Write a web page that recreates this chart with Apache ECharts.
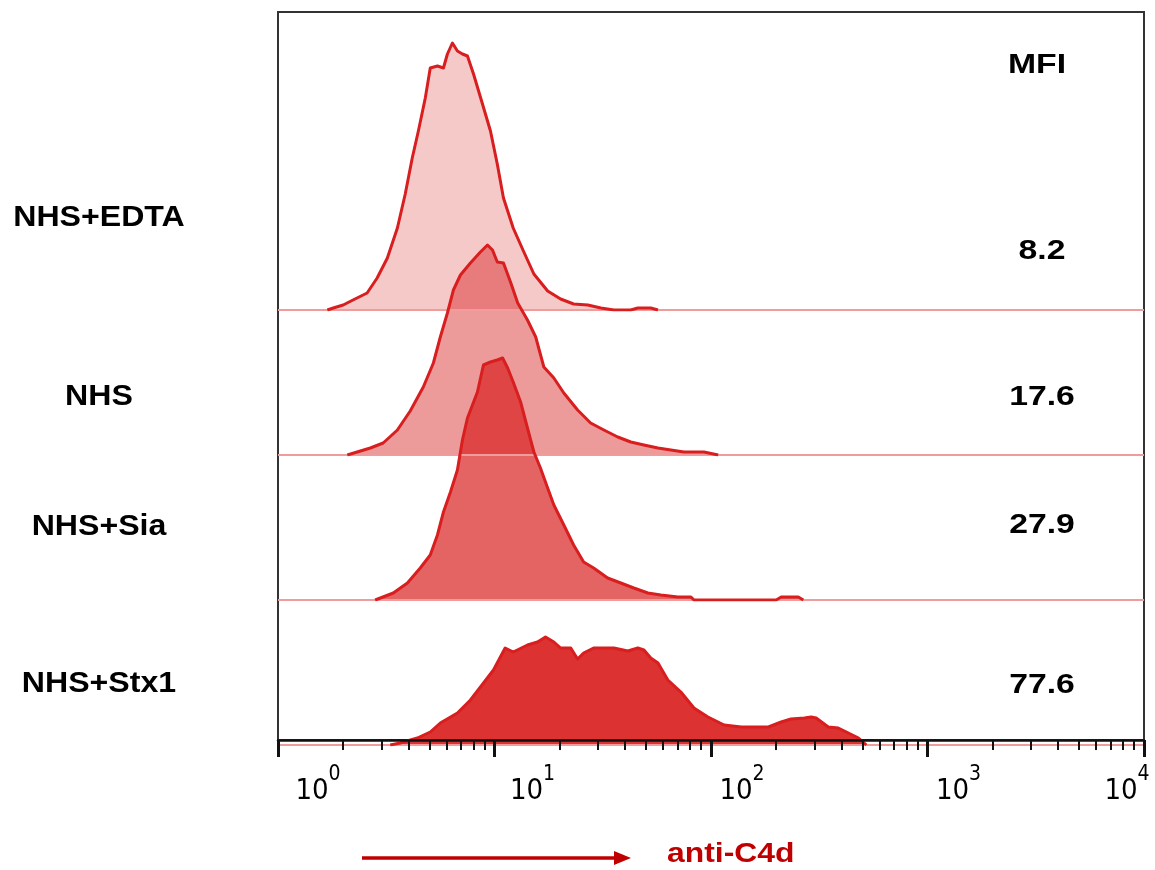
<!DOCTYPE html>
<html><head><meta charset="utf-8">
<script src="https://cdn.jsdelivr.net/npm/echarts@6/dist/echarts.min.js"></script>
<style>html,body{margin:0;padding:0;background:#fff}#c{width:1155px;height:870px}</style>
</head><body><div id="c"></div>
<script>
// ---------------- data ----------------
const groups = ['NHS+EDTA', 'NHS', 'NHS+Sia', 'NHS+Stx1'];
const mfiHeader = 'MFI';
const mfiValues = ['8.2', '17.6', '27.9', '77.6'];
const axisTitle = 'anti-C4d';
const majorTicks = [1, 10, 100, 1000, 10000];
const tickExponents = ['0', '1', '2', '3', '4'];
const minorTicks = [2,3,4,5,6,7,8,9, 20,30,40,50,60,70,80,90, 200,300,400,500,600,700,800,900, 2000,3000,4000,5000,6000,7000,8000,9000];

// histograms: [fluorescence intensity, event count]
const edta = [[1.69,0],[1.80,2],[2.0,5],[2.22,10],[2.58,17],[2.87,32],[3.20,52],[3.56,82],[3.87,116],[4.17,152],[4.45,179],[4.79,212],[5.05,242],[5.45,244],[5.81,242],[6.06,256],[6.39,267],[6.74,259],[7.11,256],[7.50,254],[8.0,236],[8.80,206],[9.58,179],[10.3,146],[11.0,112],[12.2,82],[13.6,59],[15.2,36],[17.6,19],[20.2,11],[23.2,6],[27.0,5],[31.0,2],[35.6,0],[42.6,0],[45.9,2],[52.7,2],[56.9,0]];
const nhs = [[2.09,0],[2.32,3],[2.67,7],[3.06,12],[3.56,25],[4.08,44],[4.69,68],[5.22,92],[5.62,118],[6.06,142],[6.46,165],[6.96,180],[7.74,192],[8.61,203],[9.28,210],[9.79,205],[10.3,193],[11.0,192],[11.9,172],[12.8,152],[14.2,135],[15.5,118],[16.9,88],[18.8,77],[20.9,62],[24.2,45],[27.8,32],[32.0,25],[37.1,18],[42.6,13],[49.0,10],[56.9,7],[65.3,5],[75.0,3],[92.8,3],[108,0]];
const sia = [[2.81,0],[2.97,2],[3.41,7],[3.96,17],[4.54,32],[5.05,45],[5.45,65],[5.81,88],[6.26,108],[6.74,130],[7.11,160],[7.50,182],[7.91,195],[8.34,208],[8.89,235],[9.58,238],[10.3,240],[10.9,242],[11.5,232],[12.2,218],[13.2,198],[14.2,172],[15.2,148],[16.3,132],[17.6,112],[18.8,95],[20.9,75],[23.2,55],[25.8,38],[28.7,32],[33.3,22],[38.3,17],[44.0,12],[51.1,7],[58.7,5],[70.3,3],[80.8,3],[83.4,0],[200,0],[211,3],[253,3],[267,0]];
const stx1 = [[3.30,0],[3.67,2],[4.40,7],[5.05,13],[5.62,22],[6.74,32],[7.74,45],[8.61,58],[9.89,75],[11.2,97],[12.2,93],[14.2,100],[15.8,103],[17.2,108],[18.8,103],[20.2,97],[22.5,97],[24.2,86],[25.8,92],[28.7,97],[32.0,97],[35.6,97],[41.3,94],[45.9,97],[49.0,95],[52.7,87],[56.9,82],[63.2,65],[72.6,53],[83.4,37],[96.8,28],[115,20],[138,18],[158,18],[184,18],[211,23],[234,26],[270,27],[290,28],[306,27],[348,18],[387,17],[431,12],[480,7],[522,0]];
const histograms = [edta, nhs, sia, stx1];

// ---------------- layout / style ----------------
const PL = 278, PW = 866, PT = 12, AXIS_Y = 740;
const baselines = [310, 455, 600, 745];
const fillAlpha = [0.24, 0.45, 0.69, 0.91];
const RED = '#d81e1e';
const labelY = [218, 397, 527, 684];
const mfiY = [252, 398, 526, 686];
const NARROW = "'Liberation Sans Narrow','Arial Narrow','DejaVu Sans Condensed',sans-serif";
const BOLD = "'Liberation Sans',Arial,sans-serif";

const grids = [], xAxes = [], yAxes = [], series = [];
baselines.forEach((b, i) => {
  grids.push({left: PL, width: PW, top: PT, height: b - PT, outerBoundsMode: 'none', containLabel: false});
  xAxes.push({type: 'log', logBase: 10, min: 1, max: 10000, gridIndex: i, show: false});
  yAxes.push({type: 'value', min: 0, max: b - PT, gridIndex: i, show: false});
  series.push({
    type: 'line', xAxisIndex: i, yAxisIndex: i, data: [[1, 0], [10000, 0]],
    symbol: 'none', silent: true, lineStyle: {color: '#f19c9c', width: 2}, z: 2
  });
  series.push({
    type: 'line', name: groups[i], xAxisIndex: i, yAxisIndex: i, data: histograms[i],
    symbol: 'none', showSymbol: false, smooth: false, silent: true,
    lineStyle: {color: RED, width: 3, join: 'round'},
    areaStyle: {color: RED, opacity: fillAlpha[i]}, z: 2
  });
});
// frame grid with the visible axis
grids.push({left: PL, width: PW, top: PT, height: AXIS_Y - PT, show: true, borderColor: '#333', borderWidth: 2,
  backgroundColor: 'transparent', outerBoundsMode: 'none', containLabel: false});
const shiftTok = ['{p0| }', '{p1| }', '{p2| }', '{p3| }', ''];
xAxes.push({
  type: 'log', logBase: 10, min: 1, max: 10000, gridIndex: 4, position: 'bottom', z: 10,
  axisLine: {show: true, onZero: false, lineStyle: {color: '#111', width: 2.5}},
  axisTick: {show: true, customValues: majorTicks, length: 17, lineStyle: {color: '#111', width: 3}},
  splitLine: {show: false}, minorTick: {show: false},
  axisLabel: {
    show: true, customValues: majorTicks, margin: 24, hideOverlap: false,
    formatter: function (v) {
      const i = Math.round(Math.log10(v));
      return shiftTok[i] + '{b|10}{s|' + tickExponents[i] + '}' + (i === 4 ? '{q| }' : '');
    },
    rich: {
      p0: {width: 80}, p1: {width: 76}, p2: {width: 62}, p3: {width: 62}, q: {width: 34},
      b: {fontSize: 29, fontFamily: NARROW, color: '#000'},
      s: {fontSize: 21, fontFamily: NARROW, color: '#000', padding: [0, 0, 34, 0]}
    }
  }
});
xAxes.push({
  type: 'log', logBase: 10, min: 1, max: 10000, gridIndex: 4, position: 'bottom', z: 10,
  axisLine: {show: false},
  axisTick: {show: true, customValues: minorTicks, length: 10, lineStyle: {color: '#111', width: 2}},
  axisLabel: {show: false}, splitLine: {show: false}
});
yAxes.push({type: 'value', min: 0, max: 1, gridIndex: 4, show: false});

const graphic = [];
groups.forEach((g, i) => graphic.push({
  type: 'text', x: 99, y: labelY[i], z: 20, scaleX: 1.07,
  style: {text: g, fill: '#000', font: 'bold 30px ' + BOLD, align: 'center', verticalAlign: 'middle'}
}));
graphic.push({type: 'text', x: 1037, y: 66, z: 20, scaleX: 1.25,
  style: {text: mfiHeader, fill: '#000', font: 'bold 27px ' + BOLD, align: 'center', verticalAlign: 'middle'}});
mfiValues.forEach((m, i) => graphic.push({
  type: 'text', x: 1042, y: mfiY[i], z: 20, scaleX: 1.25,
  style: {text: m, fill: '#000', font: 'bold 27px ' + BOLD, align: 'center', verticalAlign: 'middle'}
}));
graphic.push({type: 'line', z: 20, shape: {x1: 362, y1: 858, x2: 618, y2: 858}, style: {stroke: '#c00000', lineWidth: 3.5}});
graphic.push({type: 'polygon', z: 20, shape: {points: [[614, 851], [631, 858], [614, 865]]}, style: {fill: '#c00000'}});
graphic.push({type: 'text', x: 667, y: 855, z: 20, scaleX: 1.18,
  style: {text: axisTitle, fill: '#c00000', font: 'bold 27px ' + BOLD, align: 'left', verticalAlign: 'middle'}});

const chart = echarts.init(document.getElementById('c'), null, {renderer: 'canvas'});
chart.setOption({
  animation: false,
  backgroundColor: '#fff',
  grid: grids, xAxis: xAxes, yAxis: yAxes, series: series, graphic: graphic
});
</script></body></html>
